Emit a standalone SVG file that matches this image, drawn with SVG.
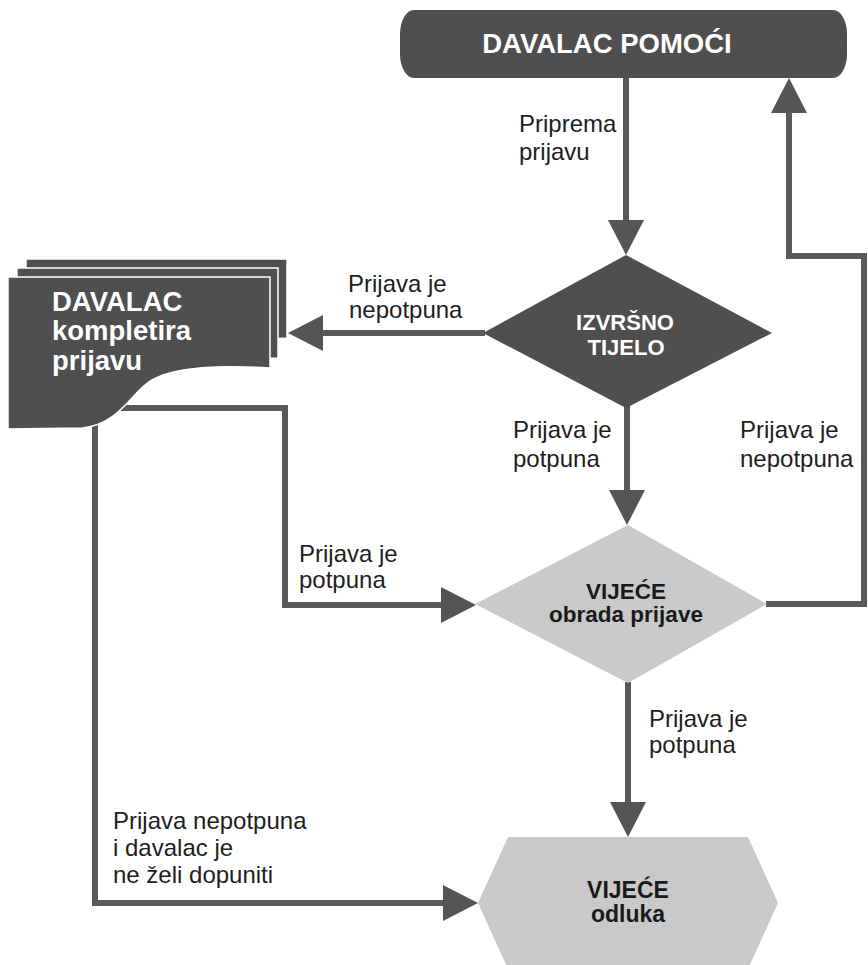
<svg xmlns="http://www.w3.org/2000/svg" xmlns:xlink="http://www.w3.org/1999/xlink" width="868" height="965" viewBox="0 0 868 965">
<defs>
<style>
.dark{fill:#4f4f4f}
.sheet{fill:#4f4f4f;stroke:#ffffff;stroke-width:1.5}
.light{fill:#c9c9c9}
.wt{font-family:"Liberation Sans",Arial,sans-serif;font-weight:bold;fill:#ffffff}
.bt{font-family:"Liberation Sans",Arial,sans-serif;font-weight:bold;fill:#1a1a1a}
.lbl{font-family:"Liberation Sans",Arial,sans-serif;font-size:24px;fill:#1e1e1e}
.ln{fill:none;stroke:#5a5a5a;stroke-width:6;stroke-linejoin:miter}
.ah{fill:#555555}
</style>
<path id="arrow" class="ah" d="M0,0 L-35,-18 L-35,18 Z"/>
</defs>
<rect width="868" height="965" fill="#ffffff"/>

<g id="connectors">
<line class="ln" x1="626" y1="78" x2="626" y2="221"/>
<use xlink:href="#arrow" transform="translate(626,255) rotate(90)"/>
<line class="ln" x1="485" y1="333" x2="322" y2="333"/>
<use xlink:href="#arrow" transform="translate(288,333) rotate(180)"/>
<line class="ln" x1="627" y1="406" x2="627" y2="491"/>
<use xlink:href="#arrow" transform="translate(627,525) rotate(90)"/>
<polyline class="ln" points="110,408 285,408 285,605 442,605"/>
<use xlink:href="#arrow" transform="translate(476,605)"/>
<polyline class="ln" points="766,604 864,604 864,256 789,256 789,112"/>
<use xlink:href="#arrow" transform="translate(789,78) rotate(-90)"/>
<line class="ln" x1="628" y1="682" x2="628" y2="803"/>
<use xlink:href="#arrow" transform="translate(628,837) rotate(90)"/>
<polyline class="ln" points="95,420 95,903 444,903"/>
<use xlink:href="#arrow" transform="translate(478,903)"/>
</g>

<g id="davalac-pomoci">
<rect class="dark" x="400" y="10" width="447" height="68" rx="14" ry="24"/>
<text class="wt" x="607" y="53" font-size="27.5" text-anchor="middle">DAVALAC POMOĆI</text>
</g>

<g id="izvrsno-tijelo">
<polygon class="dark" points="626,255 772,333 626,408 483,333"/>
<text class="wt" x="625" y="330" font-size="22" text-anchor="middle">IZVRŠNO</text>
<text class="wt" x="626" y="355" font-size="22" text-anchor="middle">TIJELO</text>
</g>

<g id="davalac-kompletira">
<path class="sheet" d="M26,259 H287 V338 C250,340 210,345 180,352 L26,352 Z"/>
<path class="sheet" d="M17,268 H278 V358 C240,358 200,360 175,366 L17,366 Z"/>
<path class="sheet" d="M8,277 H270 V368 C222,365 176,366 152,380 C130,393 120,424 82,428 L8,429 Z"/>
<text class="wt" x="52" y="311" font-size="27.5">DAVALAC</text>
<text class="wt" x="52" y="340" font-size="27.5">kompletira</text>
<text class="wt" x="52" y="370" font-size="27.5">prijavu</text>
</g>

<g id="vijece-obrada">
<polygon class="light" points="628,525 767,604 628,683 475,604"/>
<text class="bt" x="626" y="599" font-size="22.5" text-anchor="middle">VIJEĆE</text>
<text class="bt" x="626" y="622" font-size="22.5" text-anchor="middle">obrada prijave</text>
</g>

<g id="vijece-odluka">
<polygon class="light" points="508,837 748,837 778,903 748,969 508,969 478,903"/>
<text class="bt" x="628" y="898" font-size="23" text-anchor="middle">VIJEĆE</text>
<text class="bt" x="628" y="922" font-size="23" text-anchor="middle">odluka</text>
</g>

<g id="labels">
<text class="lbl" x="519" y="132">Priprema</text>
<text class="lbl" x="519" y="160">prijavu</text>
<text class="lbl" x="348" y="292">Prijava je</text>
<text class="lbl" x="349" y="318">nepotpuna</text>
<text class="lbl" x="513" y="438">Prijava je</text>
<text class="lbl" x="513" y="467">potpuna</text>
<text class="lbl" x="740" y="438">Prijava je</text>
<text class="lbl" x="740" y="467">nepotpuna</text>
<text class="lbl" x="299" y="562">Prijava je</text>
<text class="lbl" x="299" y="588">potpuna</text>
<text class="lbl" x="649" y="727">Prijava je</text>
<text class="lbl" x="649" y="753">potpuna</text>
<text class="lbl" x="113" y="829">Prijava nepotpuna</text>
<text class="lbl" x="113" y="856">i davalac je</text>
<text class="lbl" x="113" y="883">ne želi dopuniti</text>
</g>
</svg>
